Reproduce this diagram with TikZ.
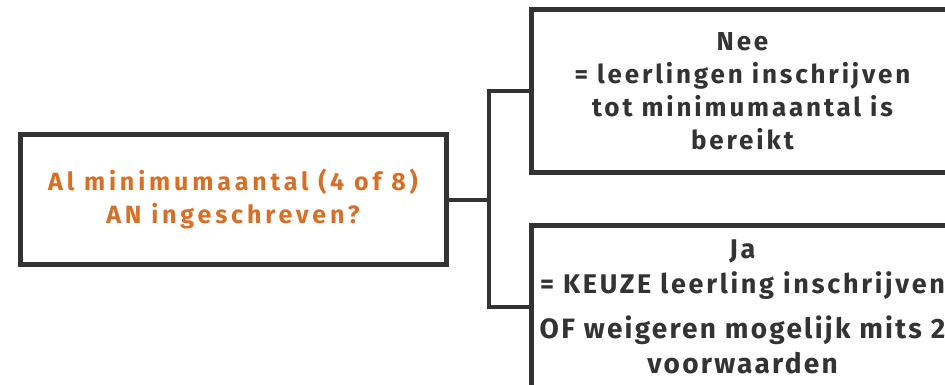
\documentclass[tikz,border=0pt]{standalone}
\usepackage{fontspec}
\setmainfont{Fira Sans}
\newfontfamily\fontq[LetterSpace=15.5]{Fira Sans}
\newfontfamily\fontnee[LetterSpace=11]{Fira Sans}
\newfontfamily\fontja[LetterSpace=10]{Fira Sans}
\newfontfamily\fontof[LetterSpace=8]{Fira Sans}
\definecolor{orng}{RGB}{214,112,40}
\definecolor{dark}{RGB}{51,51,51}
\begin{document}
\begin{tikzpicture}[x=1pt,y=-1pt,
  box/.style={draw=dark, line width=5pt, inner sep=0pt, align=center, fill=white},
  link/.style={draw=dark, line width=4pt}]
\useasboundingbox (0,0) rectangle (945,385);
\clip (0,0) rectangle (945,385);
\node[box, minimum width=426pt, minimum height=130pt, text=orng,
      font=\fontq\fontsize{25}{33}\selectfont\bfseries] (q) at (233,199.5)
  {Al minimumaantal (4 of 8)\\AN ingeschreven?};
\node[box, minimum width=423pt, minimum height=162pt, text=dark,
      font=\fontnee\fontsize{26}{33}\selectfont\bfseries] (nee) at (742.5,91)
  {Nee\\= leerlingen inschrijven\\tot minimumaantal is\\bereikt};
\node[box, minimum width=423pt, minimum height=162pt, text=dark,
      font=\fontja\fontsize{27}{35}\selectfont\bfseries] (ja) at (742.5,306.5)
  {Ja\\= KEUZE leerling inschrijven\\[10pt]{\fontof\fontsize{28}{35}\selectfont\bfseries OF weigeren mogelijk mits 2}\\{\fontof\fontsize{28}{35}\selectfont\bfseries voorwaarden}};
\coordinate (j) at (489,199.5);
\draw[link] (q.east) -- (j);
\draw[link] (nee.west) -| (j) |- (ja.west);
\end{tikzpicture}
\end{document}
